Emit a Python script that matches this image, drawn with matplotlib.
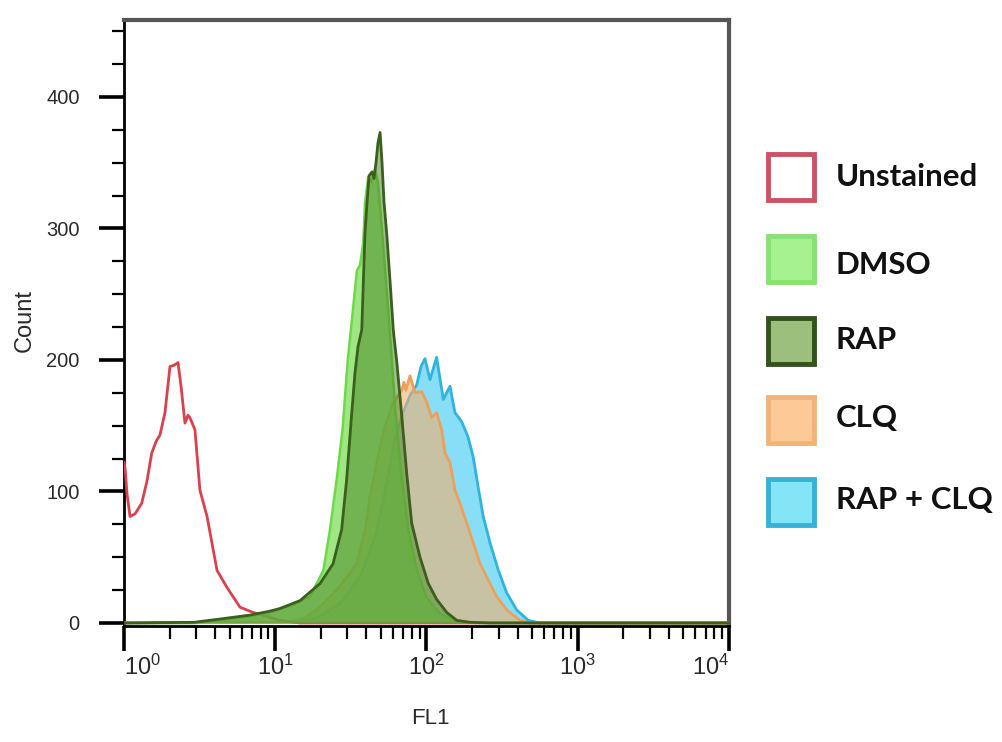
import numpy as np
import matplotlib
matplotlib.use("Agg")
import matplotlib.pyplot as plt
from matplotlib.ticker import MultipleLocator, LogLocator, NullFormatter
from matplotlib.patches import Rectangle

# ---------------- data (log10 FL1, count) ----------------
unstained_log = [0.0, 0.007, 0.020, 0.040, 0.073, 0.117, 0.152, 0.183, 0.212, 0.238, 0.271, 0.304,
                 0.331, 0.357, 0.377, 0.403, 0.423, 0.436, 0.469, 0.502, 0.549, 0.615, 0.681,
                 0.767, 0.853, 0.945, 1.031, 1.164, 4.0]
unstained_cnt = [122, 118, 98, 81, 83, 91, 108, 129, 138, 143, 160, 195,
                 196, 198, 180, 152, 158, 156, 147, 101, 81, 40, 27,
                 12, 8, 5, 2, 0, 0]

dmso_log = [0.0, 0.469, 0.635, 0.833, 0.965, 1.117, 1.230, 1.318, 1.362, 1.406, 1.445, 1.478,
            1.500, 1.524, 1.540, 1.560, 1.582, 1.593, 1.615, 1.633, 1.660, 1.679, 1.712,
            1.752, 1.792, 1.831, 1.878, 1.931, 1.997, 2.089, 2.188, 2.321, 4.0]
dmso_cnt = [0, 0, 2, 5, 8, 14, 20, 40, 71, 109, 147, 198,
            223, 250, 268, 272, 289, 319, 339, 335, 345, 335, 290,
            230, 165, 115, 72, 42, 20, 7, 2, 0, 0]

rap_log = [0.0, 0.463, 0.635, 0.833, 0.965, 1.031, 1.164, 1.296, 1.382, 1.439, 1.472, 1.506,
           1.527, 1.547, 1.572, 1.593, 1.607, 1.620, 1.640, 1.653, 1.666, 1.679, 1.693,
           1.706, 1.719, 1.737, 1.759, 1.781, 1.804, 1.836, 1.869, 1.902, 1.957, 2.012,
           2.067, 2.134, 2.200, 2.288, 2.420, 4.0]
rap_cnt = [0, 0.5, 3, 6, 9, 11, 17, 30, 45, 71, 109, 160,
           190, 210, 223, 296, 320, 340, 343, 338, 350, 365, 373,
           350, 320, 296, 260, 222, 198, 158, 114, 76, 50, 30,
           18, 8, 2, 0.5, 0, 0]

clq_log = [0.0, 1.098, 1.197, 1.296, 1.428, 1.539, 1.593, 1.626, 1.660, 1.693, 1.732, 1.779,
           1.836, 1.851, 1.864, 1.891, 1.924, 1.968, 2.001, 2.034, 2.067, 2.100, 2.123,
           2.155, 2.188, 2.221, 2.266, 2.309, 2.354, 2.398, 2.464, 2.530, 2.618, 2.684, 4.0]
clq_cnt = [0, 0.5, 4, 12, 28, 45, 70, 96, 115, 134, 152, 167,
           177, 183, 177, 188, 175, 176, 168, 156, 160, 147, 129,
           122, 101, 91, 76, 61, 45, 35, 20, 10, 2, 0, 0]

rapclq_log = [0.0, 1.164, 1.296, 1.428, 1.560, 1.660, 1.726, 1.792, 1.845, 1.891, 1.935, 1.964,
              1.990, 2.023, 2.067, 2.111, 2.155, 2.188, 2.233, 2.276, 2.309, 2.342, 2.375,
              2.420, 2.475, 2.530, 2.596, 2.673, 2.750, 4.0]
rapclq_cnt = [0, 0.5, 5, 15, 35, 65, 100, 140, 160, 173, 181, 195,
              201, 185, 202, 170, 180, 160, 153, 141, 126, 103, 81,
              61, 40, 23, 10, 2, 0, 0]

legend_labels = ["Unstained", "DMSO", "RAP", "CLQ", "RAP + CLQ"]
y_ticks = [0, 100, 200, 300, 400]
x_ticks = [1, 10, 100, 1000, 10000]
x_ticklabels = [r"$10^{0}$", r"$10^{1}$", r"$10^{2}$", r"$10^{3}$", r"$10^{4}$"]

# ---------------- figure ----------------
W, H = 1003, 742
plt.rcParams['mathtext.fontset'] = 'custom'
plt.rcParams['mathtext.rm'] = 'Liberation Sans'
plt.rcParams['mathtext.it'] = 'Liberation Sans'
fig = plt.figure(figsize=(W / 100, H / 100), dpi=100)

ax_l, ax_r, ax_t, ax_b = 124, 729, 20, 626
ax = fig.add_axes([ax_l / W, 1 - ax_b / H, (ax_r - ax_l) / W, (ax_b - ax_t) / H])

def to_x(lg):
    return 10 ** np.asarray(lg, dtype=float)

# RAP + CLQ (cyan)
x = to_x(rapclq_log)
ax.fill_between(x, rapclq_cnt, 0, color='#5fd3f3', alpha=0.75, lw=0, zorder=1)
ax.plot(x, rapclq_cnt, color='#2fb3df', lw=2, zorder=2)
# CLQ (orange)
x = to_x(clq_log)
ax.fill_between(x, clq_cnt, 0, color='#f5b070', alpha=0.6, lw=0, zorder=3)
ax.plot(x, clq_cnt, color='#eea058', lw=2, zorder=4)
# Unstained (red outline)
x = to_x(unstained_log)
ax.plot(x, unstained_cnt, color='#d9414e', lw=2, zorder=5)
# DMSO (light green)
x = to_x(dmso_log)
ax.fill_between(x, dmso_cnt, 0, color='#7fe05a', alpha=0.75, lw=0, zorder=6)
ax.plot(x, dmso_cnt, color='#6fd84a', lw=1.8, zorder=7)
# RAP (dark green)
x = to_x(rap_log)
ax.fill_between(x, rap_cnt, 0, color='#4f8a2a', alpha=0.55, lw=0, zorder=8)
ax.plot(x, rap_cnt, color='#3b5f1c', lw=2, zorder=9)

ax.set_xscale('log')
ax.set_xlim(1, 10000)
ax.set_ylim(-2.3, 458.5)

ax.set_yticks(y_ticks)
ax.set_yticklabels([str(v) for v in y_ticks])
ax.yaxis.set_minor_locator(MultipleLocator(25))
ax.set_xticks(x_ticks)
ax.set_xticklabels(x_ticklabels)
ax.xaxis.set_minor_locator(LogLocator(base=10, subs=np.arange(2, 10)))
ax.xaxis.set_minor_formatter(NullFormatter())

ax.tick_params(axis='both', which='major', direction='out', length=18, width=2.6,
               color='black', labelcolor='#2a2a2a')
ax.tick_params(axis='both', which='minor', direction='out', length=9, width=1.6, color='black')
ax.tick_params(axis='y', which='major', pad=14, labelsize=14.5)
ax.tick_params(axis='x', which='major', pad=3, labelsize=17)
for lab in ax.get_yticklabels() + ax.get_xticklabels():
    lab.set_fontfamily('Liberation Sans')
xl = ax.get_xticklabels()
xl[0].set_ha('left')
xl[-1].set_ha('right')

ax.spines['left'].set_linewidth(2)
ax.spines['bottom'].set_linewidth(2)
ax.spines['left'].set_color('black')
ax.spines['bottom'].set_color('black')
for s in ['top', 'right']:
    ax.spines[s].set_linewidth(3)
    ax.spines[s].set_color('#555555')

ax.set_ylabel("Count", fontsize=17, color='#2a2a2a', family='Liberation Sans')
ax.yaxis.label.set_va('center')
ax.yaxis.set_label_coords((25 - ax_l) / (ax_r - ax_l), (ax_b - 320) / (ax_b - ax_t))
ax.set_xlabel("FL1", fontsize=16, color='#2a2a2a', family='Liberation Sans')
ax.xaxis.label.set_va('center')
ax.xaxis.set_label_coords((430 - ax_l) / (ax_r - ax_l), (ax_b - 718) / (ax_b - ax_t))

# ---------------- legend (manual) ----------------
leg_edges = ['#c85466', '#86e274', '#33521c', '#f0b47a', '#36b2d6']
leg_faces = ['#ffffff', '#a6f290', '#9dbf7e', '#fdc996', '#84e5f7']
sq_y = [177, 259, 341, 420, 502]
txt_y = [177, 265, 340, 418, 500]
sq_x, sq_w, sq_h = 768, 46, 46
for lab, ec, fc, ys, yt in zip(legend_labels, leg_edges, leg_faces, sq_y, txt_y):
    r = Rectangle((sq_x / W, 1 - (ys + sq_h / 2) / H), sq_w / W, sq_h / H,
                  transform=fig.transFigure, facecolor=fc, edgecolor=ec, lw=3.5)
    fig.add_artist(r)
    fig.text(836 / W, 1 - yt / H, lab, fontsize=22.5, fontweight='bold', family='Lato',
             color='#111111', va='center', ha='left')

fig.savefig("out.png", dpi=100)
